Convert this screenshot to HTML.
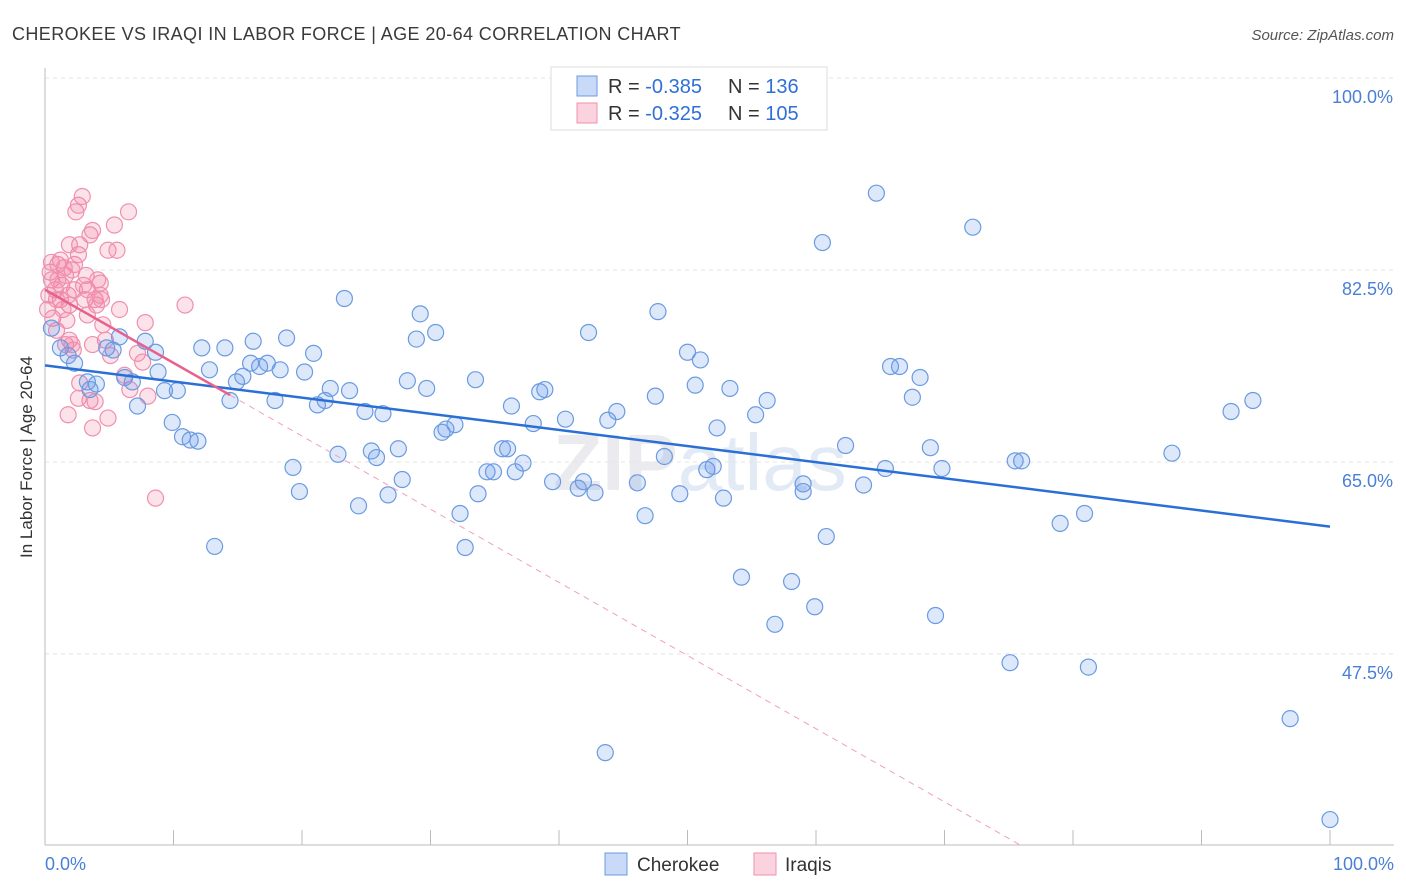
<!DOCTYPE html>
<html><head><meta charset="utf-8"><style>
body{margin:0;background:#fff;font-family:"Liberation Sans",sans-serif;}
svg{display:block}
</style></head><body>
<svg width="1406" height="892" xmlns="http://www.w3.org/2000/svg">
<text x="12" y="40" font-size="18" fill="#3a3a3a" letter-spacing="0.4">CHEROKEE VS IRAQI IN LABOR FORCE | AGE 20-64 CORRELATION CHART</text>
<text x="1394" y="40" font-size="15" fill="#555" font-style="italic" text-anchor="end">Source: ZipAtlas.com</text>
<text x="700" y="490" font-size="80" fill="#ebebef" text-anchor="middle" font-weight="bold">ZIP<tspan fill="#e2eaf5" font-weight="normal">atlas</tspan></text>
<g id="grid"></g>
<g id="axes"></g>
<g id="pts"></g>
<g id="trends"></g>
<text x="32" y="457" font-size="17" fill="#333" text-anchor="middle" transform="rotate(-90 32 457)">In Labor Force | Age 20-64</text>
<text x="45" y="870" font-size="18" fill="#4a7fd6">0.0%</text>
<text x="1394" y="870" font-size="18" fill="#4a7fd6" text-anchor="end">100.0%</text>
<g>
<rect x="551" y="67" width="276" height="63" fill="#fff" stroke="#ddd"/>
<rect x="577" y="76" width="20" height="20" fill="rgba(100,149,237,0.35)" stroke="#6a9be0"/>
<rect x="577" y="103" width="20" height="20" fill="rgba(240,128,160,0.35)" stroke="#f08fb0"/>
<text x="608" y="93" font-size="20" fill="#333">R = <tspan fill="#2f6fd8">-0.385</tspan><tspan x="728">N = </tspan><tspan fill="#2f6fd8">136</tspan></text>
<text x="608" y="120" font-size="20" fill="#333">R = <tspan fill="#2f6fd8">-0.325</tspan><tspan x="728">N = </tspan><tspan fill="#2f6fd8">105</tspan></text>
</g>
<g>
<rect x="605" y="853" width="22" height="22" fill="rgba(100,149,237,0.35)" stroke="#6a9be0"/>
<text x="637" y="871" font-size="19" fill="#333">Cherokee</text>
<rect x="754" y="853" width="22" height="22" fill="rgba(240,128,160,0.35)" stroke="#f08fb0"/>
<text x="785" y="871" font-size="19" fill="#333">Iraqis</text>
</g>
</svg>
<script>
const yTicks=[100,82.5,65,47.5];
const yTickLabels=["100.0%","82.5%","65.0%","47.5%"];
const xTicks=[0,10,20,30,40,50,60,70,80,90,100];
const cherokeeX=[0.5,1.2,1.8,2.3,3.5,4.0,3.3,4.8,5.3,5.8,6.2,6.8,7.2,7.8,8.6,8.8,9.3,9.9,10.3,10.7,11.3,11.9,12.2,12.8,13.2,14.0,14.4,14.9,15.4,16.0,16.2,16.7,17.3,17.9,18.3,18.8,19.3,19.8,20.2,20.9,21.2,21.8,22.2,22.8,23.3,23.7,24.4,24.9,25.4,25.8,26.3,26.7,27.5,27.8,28.2,28.9,29.2,29.7,30.4,30.9,31.2,31.9,32.3,32.7,33.5,33.7,34.4,34.9,35.6,36.0,36.3,36.6,37.2,38.0,38.5,38.9,39.5,40.5,41.5,41.9,42.3,42.8,43.6,43.8,44.5,46.1,46.7,47.5,47.7,48.2,49.4,50.0,50.6,51.0,51.5,52.0,52.3,52.8,53.3,54.2,55.3,56.2,56.8,58.1,59.0,59.0,59.9,60.5,60.8,62.3,63.7,64.7,65.4,65.8,66.5,67.5,68.1,68.9,69.3,69.8,72.2,75.1,75.5,76.0,79.0,80.9,81.2,87.7,92.3,94.0,96.9,100.0,44.7,53.7];
const cherokeeY=[77.2,75.4,74.7,74.0,71.6,72.1,72.3,75.4,75.2,76.4,72.7,72.3,70.1,76.0,75.0,73.2,71.5,68.6,71.5,67.3,67.0,66.9,75.4,73.4,57.3,75.4,70.6,72.3,72.8,74.0,76.0,73.7,74.0,70.6,73.4,76.3,64.5,62.3,73.2,74.9,70.2,70.6,71.7,65.7,79.9,71.5,61.0,69.6,66.0,65.4,69.4,62.0,66.2,63.4,72.4,76.2,78.5,71.7,76.8,67.7,68.0,68.4,60.3,57.2,72.5,62.1,64.1,64.1,66.2,66.2,70.1,64.1,64.9,68.5,71.4,71.6,63.2,68.9,62.6,63.2,76.8,62.2,38.5,68.8,69.6,63.1,60.1,71.0,78.7,65.5,62.1,75.0,72.0,74.3,64.3,64.6,68.1,61.7,71.7,54.5,69.3,70.6,50.2,54.1,63.0,62.3,51.8,85.0,58.2,66.5,62.9,89.5,64.4,73.7,73.7,70.9,72.7,66.3,51.0,64.4,86.4,46.7,65.1,65.1,59.4,60.3,46.3,65.8,69.6,70.6,41.6,32.4,99.8,99.8];
const iraqiX=[0.4,0.5,0.8,1.0,1.2,1.3,1.6,1.8,1.9,2.1,0.2,0.6,0.9,1.4,1.7,1.9,2.2,2.3,2.6,2.7,3.0,3.1,3.3,3.5,3.7,3.9,4.0,4.3,4.5,4.7,4.9,5.1,5.4,5.6,5.8,6.5,2.4,2.6,2.9,1.9,1.8,2.7,3.5,3.9,4.9,3.7,2.6,6.2,6.6,7.2,7.6,7.8,8.0,8.6,10.9,1.0,1.5,2.3,3.2,4.1,4.4,1.6,2.1,1.2,0.9,0.3,0.5,3.3,3.7,4.3];
const iraqiY=[82.3,81.6,80.7,83.0,79.8,81.1,82.0,80.2,79.3,82.5,78.9,78.1,77.0,78.9,77.9,76.1,75.2,83.0,83.9,84.8,81.1,79.8,80.7,85.7,86.1,79.8,79.3,80.2,77.5,76.1,84.3,74.7,86.6,84.3,78.9,87.8,87.8,88.4,89.2,84.8,69.3,72.2,70.6,70.5,69.0,68.1,70.8,72.9,71.6,74.9,74.1,77.7,71.0,61.7,79.3,81.6,82.7,80.7,82.0,81.6,79.8,75.7,75.7,83.4,79.8,80.2,83.2,78.4,75.7,81.3];
const cherokeeTrend=[73.8,59.1];
const iraqiTrend=[80.7,-0.667];
const NS="http://www.w3.org/2000/svg";
const X=v=>45+v*12.85, Y=v=>78+(100-v)*10.97;
function mk(t,a,p){const e=document.createElementNS(NS,t);for(const k in a)e.setAttribute(k,a[k]);p.appendChild(e);return e;}
const grid=document.getElementById('grid'),axes=document.getElementById('axes'),pts=document.getElementById('pts'),tr=document.getElementById('trends');
yTicks.forEach((v,i)=>{
 const l=mk('line',{x1:45,x2:1394,y1:Y(v),y2:Y(v),stroke:'#e4e4e4','stroke-dasharray':'4,4'},grid);
 
 
 const t=mk('text',{x:1393,y:Y(v)+25,'font-size':18,fill:'#4a7fd6','text-anchor':'end'},grid);
 t.textContent=yTickLabels[i];
 
 
});
const ax=mk('line',{x1:45,x2:45,y1:68,y2:845,stroke:'#bbb'},axes);


const bx=mk('line',{x1:45,x2:1394,y1:845,y2:845,stroke:'#bbb'},axes);


xTicks.forEach(v=>{const t=mk('line',{x1:X(v),x2:X(v),y1:830,y2:845,stroke:'#bbb'},axes);
 
 });
iraqiX.forEach((x,i)=>{const c=mk('circle',{cx:X(x),cy:Y(iraqiY[i]),r:8,fill:'rgba(240,128,160,0.22)',stroke:'#f08fb0','stroke-width':1.2},pts);
 
 });
cherokeeX.forEach((x,i)=>{const c=mk('circle',{cx:X(x),cy:Y(cherokeeY[i]),r:8,fill:'rgba(100,149,237,0.22)',stroke:'#6a9be0','stroke-width':1.2},pts);
 
 });
const bt=mk('line',{x1:X(0),y1:Y(cherokeeTrend[0]),x2:X(100),y2:Y(cherokeeTrend[1]),stroke:'#2a6fd6','stroke-width':2.5},tr);


const pe=x=>iraqiTrend[0]+iraqiTrend[1]*x;
const xEnd=(30-iraqiTrend[0])/iraqiTrend[1];
const pd=mk('line',{x1:X(14.4),y1:Y(pe(14.4)),x2:X(xEnd),y2:Y(30),stroke:'#f0a0bc','stroke-width':1,'stroke-dasharray':'6,5'},tr);


const ps=mk('line',{x1:X(0),y1:Y(pe(0)),x2:X(14.4),y2:Y(pe(14.4)),stroke:'#e8608c','stroke-width':2.5},tr);


</script>
</body></html>
